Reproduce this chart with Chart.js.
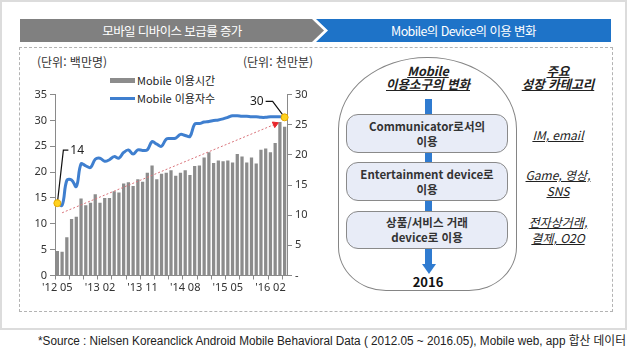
<!DOCTYPE html>
<html lang="ko">
<head>
<meta charset="UTF-8">
<title>모바일 디바이스 보급률 증가</title>
<style>
    html, body {
        margin: 0;
        padding: 0;
    }
    body {
        width: 630px;
        height: 358px;
        position: relative;
        overflow: hidden;
        background: #fff;
        color: #222;
        font-family: "Noto Sans CJK KR", "Noto Sans", sans-serif;
    }
    .abs { position: absolute; }
    .frame {
        left: 0; top: 0; width: 623px; height: 326px;
        border: 2px solid #dcdcdc;
    }
    .dash {
        left: 19px; top: 47px; width: 592px; height: 263px;
        border: 1px dashed #b3b3b3;
    }
    .head {
        top: 19px; height: 23px; line-height: 23px;
        color: #fff; font-size: 12.5px; text-align: center;
        letter-spacing: -0.6px;
    }
    .head-gray {
        left: 20px; width: 304px; background: #808080;
        clip-path: polygon(0 0, 292px 0, 304px 50%, 292px 100%, 0 100%);
    }
    .head-blue {
        left: 316px; width: 295px; background: #1e73c8;
        clip-path: polygon(0 0, 100% 0, 100% 100%, 0 100%, 12px 50%);
    }
    .unit { top: 54px; font-size: 12px; line-height: 16px; color: #333; }
    .legend-txt { font-size: 11px; line-height: 14px; color: #222; }
    .arch {
        left: 338px; top: 57px; width: 177px; height: 232px;
        border: 1.3px solid #858585;
        border-radius: 89px 89px 48px 48px / 72px 72px 44px 44px;
    }
    .ttl {
        font-size: 12.5px; font-weight: bold; font-style: italic;
        text-decoration: underline; line-height: 13px; text-align: center;
        color: #222;
    }
    .conn { left: 425px; width: 7px; background: #2f7bd0; }
    .box {
        left: 346px; width: 160px;
        border: 1.3px solid #8a8a8a; border-radius: 12px;
        background: #e8ecf7;
        font-size: 11.5px; font-weight: bold; color: #333;
        text-align: center; line-height: 15px;
        display: flex; flex-direction: column; justify-content: center;
    }
    .cat {
        left: 508px; width: 100px; text-align: center;
        font-size: 12px; font-style: italic; text-decoration: underline;
        line-height: 16px; color: #222;
    }
    .source {
        left: 38px; top: 333px; font-size: 12px; line-height: 16px;
        white-space: nowrap; color: #222; transform-origin: left center;
        font-family: "Liberation Sans Narrow", "Liberation Sans", "Noto Sans CJK KR", sans-serif;
    }
</style>
<script src="https://cdn.jsdelivr.net/npm/chart.js"></script>
</head>
<body>

<div class="abs frame"></div>
<div class="abs dash"></div>

<div class="abs head head-gray">모바일 디바이스 보급률 증가</div>
<div class="abs head head-blue">Mobile의 Device의 이용 변화</div>

<div class="abs unit" style="left:37px;">(단위: 백만명)</div>
<div class="abs unit" style="left:243px;">(단위: 천만분)</div>

<!-- legend -->
<div class="abs" style="left:110px; top:78px; width:25px; height:5px; background:#8c8c8c;"></div>
<div class="abs legend-txt" style="left:137px; top:73px;">Mobile 이용시간</div>
<div class="abs" style="left:110px; top:97px; width:25px; height:3px; background:#3f7fcf;"></div>
<div class="abs legend-txt" style="left:137px; top:91px;">Mobile 이용자수</div>

<div class="abs" style="left:20px; top:85px; width:300px; height:215px;">
    <canvas id="mobile-chart" width="300" height="215"></canvas>
</div>

<!-- 오른쪽 다이어그램 -->
<div class="abs arch"></div>
<div class="abs ttl" style="left:368px; top:64px; width:120px;">Mobile<br>이용소구의 변화</div>
<div class="abs conn" style="top:99px; height:15px;"></div>
<div class="abs box" style="top:114px; height:37px;">Communicator로서의<br>이용</div>
<div class="abs conn" style="top:153px; height:9px;"></div>
<div class="abs box" style="top:162px; height:37px;">Entertainment device로<br>이용</div>
<div class="abs conn" style="top:201px; height:10px;"></div>
<div class="abs box" style="top:211px; height:36px;">상품/서비스 거래<br>device로 이용</div>
<div class="abs conn" style="top:249px; height:16px;"></div>
<div class="abs" style="left:422px; top:264px; width:0; height:0; border-left:7px solid transparent; border-right:7px solid transparent; border-top:10px solid #2f7bd0;"></div>
<div class="abs" style="left:398px; top:274px; width:60px; text-align:center; font-size:13px; font-weight:bold; line-height:16px; color:#111;">2016</div>

<div class="abs ttl" style="left:508px; top:64px; width:100px;">주요<br>성장 카테고리</div>
<div class="abs cat" style="top:127px;">IM, email</div>
<div class="abs cat" style="top:167px;">Game, 영상,<br>SNS</div>
<div class="abs cat" style="top:214px;">전자상거래,<br>결제, O2O</div>

<div class="abs source" id="source">*Source : Nielsen Koreanclick Android Mobile Behavioral Data ( 2012.05 ~ 2016.05), Mobile web, app 합산 데이터</div>

<script>
    // 월별 카테고리 (2012.05 ~ 2016.05)
    const months = [
        "'12 05", "'12 06", "'12 07", "'12 08", "'12 09", "'12 10", "'12 11", "'12 12",
        "'13 01", "'13 02", "'13 03", "'13 04", "'13 05", "'13 06", "'13 07", "'13 08", "'13 09", "'13 10", "'13 11", "'13 12",
        "'14 01", "'14 02", "'14 03", "'14 04", "'14 05", "'14 06", "'14 07", "'14 08", "'14 09", "'14 10", "'14 11", "'14 12",
        "'15 01", "'15 02", "'15 03", "'15 04", "'15 05", "'15 06", "'15 07", "'15 08", "'15 09", "'15 10", "'15 11", "'15 12",
        "'16 01", "'16 02", "'16 03", "'16 04", "'16 05"
    ];

    // Mobile 이용시간 (천만분, 오른쪽 축)
    const usageTime = [
        4.0, 3.9, 6.3, 9.3, 9.7, 12.7, 11.6, 12.0,
        13.4, 12.0, 12.8, 12.8, 13.9, 13.7, 15.2, 15.4, 14.8, 15.9, 15.5, 17.0,
        18.2, 15.9, 16.8, 17.0, 17.4, 16.5, 17.0, 17.4, 16.6, 18.1, 18.2, 19.5,
        20.4, 18.6, 19.0, 18.9, 19.0, 18.7, 20.1, 19.7, 18.7, 19.5, 18.5, 20.8,
        21.0, 20.4, 21.9, 25.4, 24.6
    ];

    // Mobile 이용자수 (백만명, 왼쪽 축)
    const users = [
        14.0, 13.6, 18.4, 18.5, 17.2, 21.6, 21.2, 20.9,
        22.5, 22.7, 22.1, 22.4, 23.0, 22.7, 23.8, 24.3, 23.5, 24.3, 24.2, 24.3,
        25.9, 25.4, 25.0, 26.4, 26.5, 26.6, 27.3, 27.1, 26.9, 29.3, 29.4, 29.7,
        29.8, 30.0, 30.1, 30.3, 30.6, 30.9, 30.9, 30.8, 30.8, 30.7, 30.7, 30.6,
        30.6, 30.7, 30.7, 30.7, 30.6
    ];

    // 추세 화살표 (이용시간 축 기준) 시작/끝
    const trendFrom = { index: 1, value: 10.4 };
    const trendTo = { index: 46, value: 25.1 };
    const trend = months.map((m, i) => i === trendFrom.index ? trendFrom.value : (i === trendTo.index ? trendTo.value : null));

    const calloutLabels = ['14', '30'];
    const labelEvery = 9;
    const tickEvery = 3;

    const leftTicks = [0, 5, 10, 15, 20, 25, 30, 35];
    const rightTicks = [0, 5, 10, 15, 20, 25, 30];

    const lastIdx = users.length - 1;

    // 첫/마지막 점 callout
    const calloutPlugin = {
        id: 'callouts',
        beforeDatasetsDraw(chart) {
            const meta = chart.getDatasetMeta(1);
            const p0 = meta.data[0];
            const p1 = meta.data[lastIdx];
            const c = chart.ctx;
            c.save();
            c.strokeStyle = '#111';
            c.lineWidth = 1.2;
            c.beginPath();
            c.moveTo(p0.x, p0.y);
            c.lineTo(p0.x + 6, p0.y - 53);
            c.lineTo(p0.x + 11, p0.y - 53);
            c.moveTo(p1.x, p1.y);
            c.lineTo(p1.x - 12, p1.y - 16);
            c.lineTo(p1.x - 19, p1.y - 16);
            c.stroke();
            c.fillStyle = '#222';
            c.font = '12px "Noto Sans", sans-serif';
            c.textBaseline = 'middle';
            c.textAlign = 'left';
            c.fillText(calloutLabels[0], p0.x + 13, p0.y - 53);
            c.textAlign = 'right';
            c.fillText(calloutLabels[1], p1.x - 21, p1.y - 16);
            c.restore();
        }
    };

    Chart.defaults.font.family = '"Noto Sans", "Noto Sans CJK KR", sans-serif';
    Chart.defaults.font.size = 11;
    Chart.defaults.color = '#333';

    const ctx = document.getElementById('mobile-chart').getContext('2d');
    const chart = new Chart(ctx, {
        type: 'bar',
        data: {
            labels: months,
            datasets: [
                {
                    label: 'Mobile 이용시간',
                    data: usageTime,
                    yAxisID: 'y1',
                    backgroundColor: '#8c8c8c',
                    barThickness: 2.6,
                    order: 3
                },
                {
                    type: 'line',
                    label: 'Mobile 이용자수',
                    data: users,
                    yAxisID: 'y',
                    borderColor: '#3f7fcf',
                    borderWidth: 3,
                    tension: 0.4,
                    pointRadius: (c) => (c.dataIndex === 0 || c.dataIndex === lastIdx) ? 3.5 : 0,
                    pointBackgroundColor: '#ffd21f',
                    pointBorderColor: '#e6a800',
                    pointBorderWidth: 1,
                    order: 1
                },
                {
                    type: 'line',
                    label: 'trend',
                    data: trend,
                    yAxisID: 'y1',
                    spanGaps: true,
                    borderColor: '#d9737a',
                    borderWidth: 1,
                    borderDash: [2, 2],
                    pointStyle: 'triangle',
                    pointRotation: 67,
                    pointRadius: (c) => c.dataIndex === trendTo.index ? 3.5 : 0,
                    pointBackgroundColor: '#e8262b',
                    pointBorderColor: '#e8262b',
                    order: 2
                }
            ]
        },
        options: {
            responsive: false,
            animation: false,
            layout: { padding: { top: 8, left: 0, right: 0, bottom: 0 } },
            plugins: {
                legend: { display: false },
                tooltip: { enabled: false }
            },
            scales: {
                x: {
                    offset: true,
                    grid: {
                        offset: true,
                        drawOnChartArea: false,
                        tickLength: 4,
                        tickColor: (c) => (c.index % tickEvery === 0) ? '#8a8a8a' : 'rgba(0,0,0,0)'
                    },
                    border: { color: '#8a8a8a' },
                    ticks: {
                        autoSkip: false,
                        maxRotation: 0,
                        padding: 2,
                        callback: (v, i) => (i % labelEvery === 0) ? months[i] : ''
                    },
                    afterFit: (s) => { s.height = 24.5; }
                },
                y: {
                    position: 'left',
                    min: 0,
                    max: 35,
                    grid: { drawOnChartArea: false, tickLength: 5, color: '#8a8a8a' },
                    border: { color: '#8a8a8a' },
                    afterBuildTicks: (s) => { s.ticks = leftTicks.map(v => ({ value: v })); },
                    ticks: { padding: 3 },
                    afterFit: (s) => { s.width = 35; }
                },
                y1: {
                    position: 'right',
                    min: 0,
                    max: 30,
                    grid: { drawOnChartArea: false, tickLength: 5, color: '#8a8a8a' },
                    border: { color: '#8a8a8a' },
                    afterBuildTicks: (s) => { s.ticks = rightTicks.map(v => ({ value: v })); },
                    ticks: {
                        padding: 3,
                        callback: (v) => v === 0 ? '-' : v
                    },
                    afterFit: (s) => { s.width = 33; }
                }
            }
        },
        plugins: [calloutPlugin]
    });

    // 출처 문구 폭 맞추기
    const src = document.getElementById('source');
    const w = src.getBoundingClientRect().width;
    src.style.transform = 'scaleX(' + (588 / w) + ')';
</script>
</body>
</html>
